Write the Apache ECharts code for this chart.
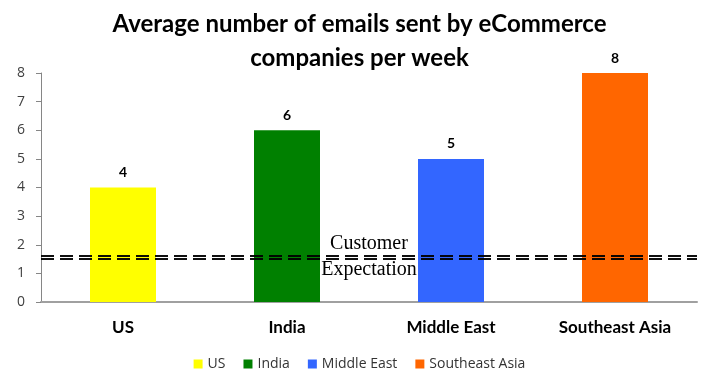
<!DOCTYPE html>
<html>
<head>
<meta charset="utf-8">
<script src="https://cdn.jsdelivr.net/npm/echarts@6/dist/echarts.min.js"></script>
<style>html,body{margin:0;padding:0;background:#fff}#c{width:719px;height:386px}</style>
</head>
<body>
<div id="c"></div>
<script>
const categories = ['US', 'India', 'Middle East', 'Southeast Asia'];
const values = [4, 6, 5, 8];
const colors = ['#FFFF00', '#008000', '#3366FF', '#FF6600'];
const yTicks = [0, 1, 2, 3, 4, 5, 6, 7, 8];
const expectation = 1.5;

const chart = echarts.init(document.getElementById('c'), null, {renderer: 'canvas'});

const series = categories.map((name, i) => ({
  name: name,
  type: 'bar',
  stack: 'all',
  barWidth: 66,
  itemStyle: {color: colors[i]},
  data: categories.map((c, j) => j === i ? values[i] : '-'),
  label: {
    show: true, position: 'top', distance: 8,
    fontFamily: 'Lato', fontWeight: 'bold', fontSize: 14, color: '#000'
  },
  emphasis: {disabled: true}
}));

series[0].markLine = {
  silent: true,
  symbol: 'none',
  lineStyle: {
    type: [13, 6], width: 1.5, color: '#000',
    shadowColor: '#000', shadowBlur: 0, shadowOffsetY: -3
  },
  label: {
    fontFamily: 'Liberation Serif', fontSize: 20, color: '#000'
  },
  data: [
    {yAxis: expectation, label: {formatter: 'Customer', position: 'insideMiddleTop', distance: 5}},
    {yAxis: expectation, label: {formatter: 'Expectation', position: 'insideMiddleBottom', distance: 1}}
  ]
};

chart.setOption({
  animation: false,
  title: {
    text: 'Average number of emails sent by eCommerce\ncompanies per week',
    left: 'center', top: 2,
    textStyle: {fontFamily: 'Lato', fontWeight: 'bold', fontSize: 24, color: '#000', lineHeight: 34}
  },
  legend: {
    bottom: 10, left: 'center',
    itemWidth: 9, itemHeight: 9, itemGap: 18,
    icon: 'rect',
    textStyle: {fontFamily: 'Open Sans', fontSize: 14, color: '#333'},
    data: categories
  },
  grid: {left: 41, right: 22, top: 73, bottom: 84},
  xAxis: {
    type: 'category',
    data: categories,
    axisLine: {lineStyle: {color: '#a0a0a0', width: 2}},
    axisTick: {show: false},
    axisLabel: {fontFamily: 'Lato', fontWeight: 'bold', fontSize: 17, color: '#000', margin: 17}
  },
  yAxis: {
    type: 'value',
    min: yTicks[0], max: yTicks[yTicks.length - 1], interval: 1,
    axisLine: {show: true, lineStyle: {color: '#868686'}},
    axisTick: {show: true, length: 5, lineStyle: {color: '#868686'}},
    splitLine: {show: false},
    axisLabel: {fontFamily: 'Open Sans', fontSize: 14, color: '#404040', margin: 16}
  },
  series: series
});
</script>
</body>
</html>
